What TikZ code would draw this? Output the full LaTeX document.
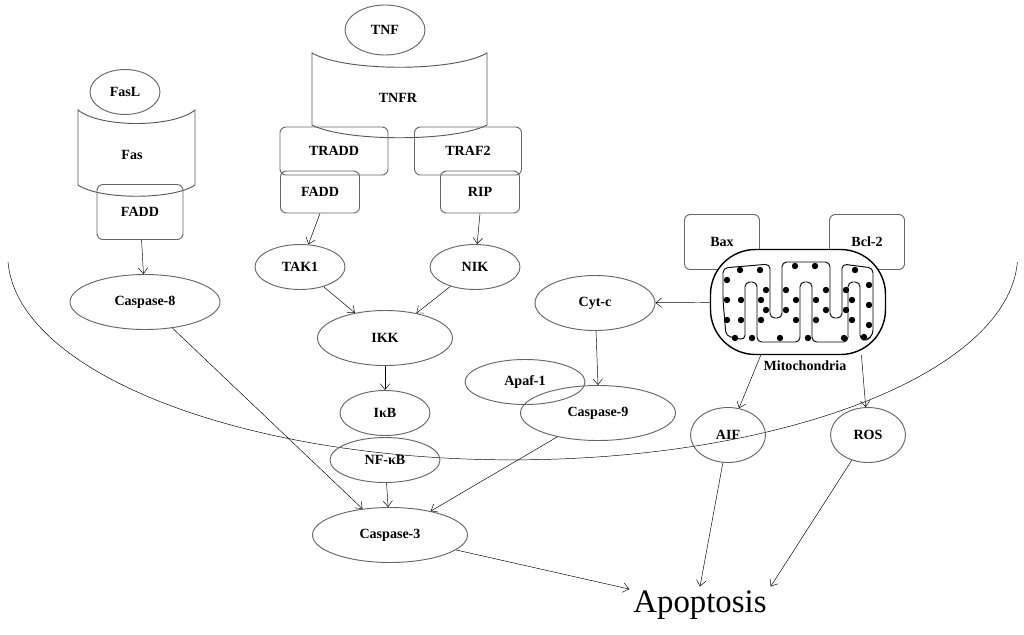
\documentclass[tikz,border=0pt]{standalone}
\usepackage{fontspec}
\setmainfont{Liberation Serif}
\usetikzlibrary{shapes.geometric,arrows.meta}
\newcommand{\pxu}{0.03cm}
\tikzset{
  mol/.style={ellipse,draw=gray!80!black,thick,inner sep=0pt,font=\bfseries\fontsize{12}{14}\selectfont},
  prot/.style={draw=gray!80!black,thick,rounded corners=5pt,inner sep=0pt,font=\bfseries\fontsize{12}{14}\selectfont},
  sz/.style 2 args={minimum width=#1*\pxu,minimum height=#2*\pxu},
  lbl/.style={font=\bfseries\fontsize{12}{14}\selectfont},
  act/.style={-{Straight Barb[length=5pt,width=8pt]},thin},
  cup/.style={draw=gray!70!black,thick}
}
\begin{document}
\begin{tikzpicture}[x=0.03cm,y=-0.03cm]
\useasboundingbox (0,0) rectangle (1024,634);

%---------------------------------------------------------------- membrane
\draw[thin] (8,262) arc[start angle=178,end angle=2,x radius=505,y radius=205];

%---------------------------------------------------------------- receptors
\draw[cup] (78,110) .. controls (100,128) and (173,128) .. (195,110) -- (195,185)
  .. controls (173,200) and (100,200) .. (78,185) -- cycle;
\draw[cup] (312,53) .. controls (345,72) and (454,72) .. (487,53) -- (487,125)
  .. controls (454,142) and (345,142) .. (312,125) -- cycle;
\node[mol,sz={70}{45}] (fasl) at (125,92) {FasL};
\node[lbl] (fas) at (132,155) {Fas};
\node[mol,sz={80}{50}] (tnf) at (385,30) {TNF};
\node[lbl] (tnfr) at (398,98) {TNFR};

%---------------------------------------------------------------- adaptors
\node[prot,sz={86}{55}] (fadd) at (140,212) {FADD};
\node[prot,sz={108}{48}] (tradd) at (334,151) {TRADD};
\node[prot,sz={107}{48}] (traf) at (468,151) {TRAF2};
\node[prot,sz={79}{42}] (fadd2) at (320,192) {FADD};
\node[prot,sz={79}{42}] (rip) at (480,192) {RIP};

%---------------------------------------------------------------- cytosol
\node[mol,sz={90}{45}] (tak) at (300,267) {TAK1};
\node[mol,sz={90}{45}] (nik) at (475,267) {NIK};
\node[mol,sz={150}{55}] (casp8) at (145,302) {Caspase-8};
\node[mol,sz={135}{55}] (ikk) at (385,338) {IKK};
\node[mol,sz={90}{45}] (ikb) at (385,413) {IκB};
\node[mol,sz={110}{45}] (nfkb) at (385,460) {NF-κB};
\node[mol,sz={155}{55}] (casp3) at (390,535) {Caspase-3};
\node[mol,sz={120}{55}] (cytc) at (595,303) {Cyt-c};
\node[mol,sz={120}{45}] (apaf) at (525,382) {Apaf-1};
\node[mol,sz={155}{55}] (casp9) at (598,413) {Caspase-9};
\node[mol,sz={75}{55}] (aif) at (728,435) {AIF};
\node[mol,sz={75}{55}] (ros) at (868,435) {ROS};
\node[font=\fontsize{28}{32}\selectfont] (apop) at (700,605) {Apoptosis};

%---------------------------------------------------------------- mitochondria
\node[prot,sz={75}{55}] (bax) at (722,242) {Bax};
\node[prot,sz={75}{55}] (bcl) at (867,242) {Bcl-2};
\node[draw,very thick,rounded corners=45*\pxu,fill=white,sz={175}{105}] (mito) at (798,302) {};
\draw[thick,rounded corners=4pt]
  (723,300) -- (723,268) -- (770,264) -- (770,318) -- (782,318) -- (782,262) -- (830,262)
  -- (830,318) -- (842,318) -- (842,264) -- (873,268) -- (873,335) -- (867,340) -- (860,340)
  -- (860,282) -- (848,282) -- (848,342) -- (812,342) -- (812,282) -- (800,282) -- (800,342)
  -- (757,342) -- (757,282) -- (745,282) -- (745,340) -- (726,336) -- cycle;
\foreach \dx/\dy in {727/280,727/300,727/320,740/270,760/270,766/290,766/310,786/290,786/310,
  795/266,815/266,826/290,826/310,846/290,846/310,855/270,869/285,869/305,869/325,864/337,
  852/300,852/320,844/338,816/300,816/320,808/338,796/300,796/320,780/338,761/300,761/320,
  752/338,741/300,741/320,735/338}
  \fill (\dx,\dy) circle (3.2*\pxu);
\node[lbl] (mitolbl) at (805,366) {Mitochondria};

%---------------------------------------------------------------- arrows
\draw[act] (fadd) -- (casp8);
\draw[act] (fadd2.south) -- (tak);
\draw[act] (rip.south) -- (nik);
\draw[act] (tak) -- (ikk);
\draw[act] (nik) -- (ikk);
\draw[act] (ikk) -- (ikb);
\draw[act] (nfkb) -- (casp3);
\draw[act] (casp8) -- (casp3);
\draw[act] (casp9) -- (casp3);
\draw[act] (mito) -- (cytc);
\draw[act] (cytc) -- (casp9.north);
\draw[act] (mito.-125) -- (aif);
\draw[act] (mito.-40) -- (ros);
\draw[act] (casp3) -- (apop);
\draw[act] (aif) -- (apop.north);
\draw[act] (ros) -- (apop.north east);
\end{tikzpicture}
\end{document}
